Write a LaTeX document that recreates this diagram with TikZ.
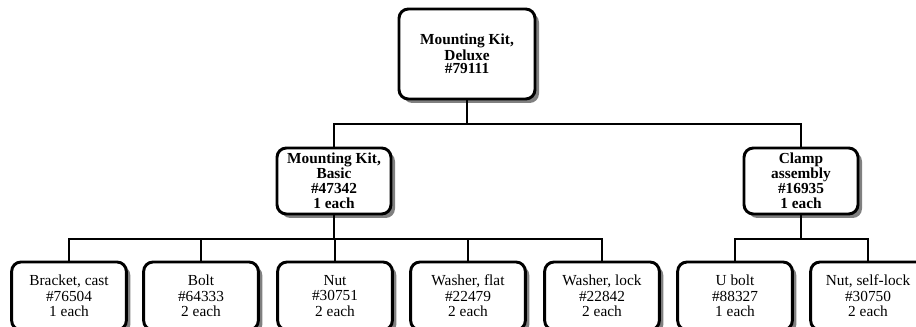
\documentclass[tikz,border=0pt]{standalone}
\usepackage{fontspec}
\setmainfont{Liberation Serif}
\usepackage{tikz}
\usetikzlibrary{positioning, shadows}
\definecolor{lineBlack}{HTML}{000000}
\definecolor{shadowGrey}{HTML}{808080}

\begin{document}
\begin{tikzpicture}[
  x=0.75pt, y=-0.75pt,
  every node/.style={font=\fontsize{11.5}{11.6}\selectfont},
  kitbox/.style={rectangle, rounded corners=7pt, draw=lineBlack, line width=2.2pt,
              fill=white, align=center, inner sep=0.5mm,
              drop shadow={shadow xshift=3pt, shadow yshift=-3pt,
                           fill=shadowGrey, opacity=1}},
  topbox/.style={kitbox, minimum width=102pt, minimum height=67.5pt,
              font=\fontsize{11.5}{10}\selectfont\bfseries},
  subbox/.style={kitbox, minimum width=85.5pt, minimum height=49.5pt,
              font=\fontsize{11.5}{11.2}\selectfont\bfseries},
  partbox/.style={kitbox, minimum width=86pt, minimum height=51pt},
  link/.style={draw=lineBlack, line width=1.8pt},
]
  \useasboundingbox (0,0) rectangle (916,327);
  \clip (0,0) rectangle (916,327);

  % bus lines of the tree
  \coordinate (bus_top) at (0,124);
  \coordinate (bus_low) at (0,239);

  % ═══ Top level ═══
  \node[topbox] at (467,54) (deluxe) {Mounting Kit,\\Deluxe\\\#79111};

  % ═══ Second level ═══
  \node[subbox] at (334,181) (basic) {Mounting Kit,\\Basic\\\#47342\\1 each};
  \node[subbox] at (801,181) (clamp) {Clamp\\assembly\\\#16935\\1 each};

  % ═══ Parts ═══
  \node[partbox] at (69,296)  (bracket)  {Bracket, cast\\\#76504\\1 each};
  \node[partbox] at (201,296) (bolt)     {Bolt\\\#64333\\2 each};
  \node[partbox] at (335,296) (nut)      {Nut\\\#30751\\2 each};
  \node[partbox] at (468,296) (washflat) {Washer, flat\\\#22479\\2 each};
  \node[partbox] at (602,296) (washlock) {Washer, lock\\\#22842\\2 each};
  \node[partbox] at (735,296) (ubolt)    {U bolt\\\#88327\\1 each};
  \node[partbox] at (868,296) (selflock) {Nut, self-lock\\\#30750\\2 each};

  % Connectors: deluxe -> kits
  \draw[link] (deluxe.south) -- (deluxe.south |- bus_top);
  \draw[link] (basic.north) -- (basic.north |- bus_top) -| (clamp.north);

  % Connectors: basic kit -> parts
  \draw[link] (basic.south) -- (basic.south |- bus_low);
  \draw[link] (bracket.north) -- (bracket.north |- bus_low) -| (washlock.north);
  \draw[link] (bolt.north) -- (bolt.north |- bus_low);
  \draw[link] (nut.north) -- (nut.north |- bus_low);
  \draw[link] (washflat.north) -- (washflat.north |- bus_low);

  % Connectors: clamp -> parts
  \draw[link] (clamp.south) -- (clamp.south |- bus_low);
  \draw[link] (ubolt.north) -- (ubolt.north |- bus_low) -| (selflock.north);
\end{tikzpicture}
\end{document}
